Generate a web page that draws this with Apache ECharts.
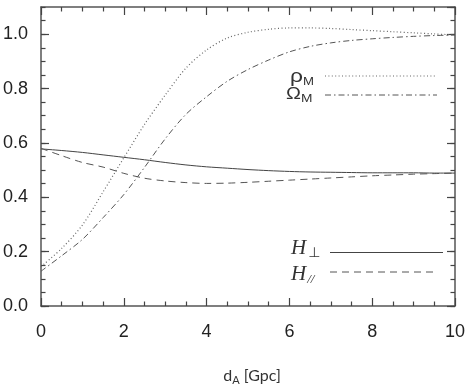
<!DOCTYPE html>
<html>
<head>
<meta charset="utf-8">
<script src="https://cdn.jsdelivr.net/npm/echarts@6/dist/echarts.min.js"></script>
<style>
  html, body { margin: 0; padding: 0; background: #fff; }
  #chart { width: 468px; height: 391px; }
</style>
</head>
<body>
<div id="chart"></div>
<script>
// distance grid, Gpc
var dA = [0, 0.5, 1, 1.5, 2, 2.5, 3, 3.5, 4, 4.5, 5, 5.5, 6, 6.5, 7, 7.5, 8, 8.5, 9, 9.5, 10];

var rhoM = [0.145, 0.212, 0.298, 0.42, 0.545, 0.668, 0.776, 0.875, 0.942, 0.986, 1.007, 1.018, 1.023, 1.023, 1.021, 1.017, 1.013, 1.009, 1.005, 1.001, 0.997];
var omegaM = [0.128, 0.185, 0.245, 0.325, 0.41, 0.51, 0.615, 0.705, 0.77, 0.827, 0.87, 0.905, 0.935, 0.955, 0.968, 0.977, 0.983, 0.988, 0.992, 0.995, 0.997];
var hPerp = [0.578, 0.572, 0.565, 0.556, 0.547, 0.538, 0.528, 0.519, 0.512, 0.507, 0.502, 0.498, 0.495, 0.493, 0.492, 0.491, 0.49, 0.49, 0.49, 0.489, 0.489];
var hPar = [0.58, 0.553, 0.528, 0.511, 0.488, 0.47, 0.46, 0.454, 0.451, 0.452, 0.455, 0.459, 0.463, 0.467, 0.471, 0.475, 0.479, 0.482, 0.485, 0.487, 0.489];

var yTicks = [0, 0.2, 0.4, 0.6, 0.8, 1.0];

function pairs(ys) {
  return dA.map(function (x, i) { return [x, ys[i]]; });
}

var frame = "#555";
var tickCol = "#444";
var axisFont = "Liberation Sans, Arial, sans-serif";

function xAx(pos, labels) {
  return {
    type: "value", position: pos, min: 0, max: 10, interval: 2,
    axisLine: { show: true, onZero: false, lineStyle: { color: frame, width: 1.5 } },
    axisTick: { show: true, inside: true, length: 8, lineStyle: { color: tickCol, width: 1.2 } },
    minorTick: { show: true, splitNumber: 4, length: 4.5, lineStyle: { color: tickCol, width: 1.2 } },
    splitLine: { show: false },
    axisLabel: labels ? {
      show: true, margin: 17, fontSize: 18, color: "#222", fontFamily: axisFont,
      alignMinLabel: "center", alignMaxLabel: "center"
    } : { show: false }
  };
}

function yAx(pos, step, len, line, labels) {
  return {
    type: "value", position: pos, min: 0, max: 1.1, interval: step,
    axisLine: { show: line, onZero: false, lineStyle: { color: frame, width: 1.5 } },
    axisTick: { show: true, inside: true, length: len, lineStyle: { color: tickCol, width: 1.2 } },
    splitLine: { show: false },
    axisLabel: labels ? {
      show: true, margin: 13, fontSize: 18, color: "#222", fontFamily: axisFont,
      showMaxLabel: false,
      formatter: function (v) { return yTicks.indexOf(+v.toFixed(2)) >= 0 ? v.toFixed(1) : ""; }
    } : { show: false }
  };
}

var bottomX = xAx("bottom", true);
bottomX.name = "d{sub|A} [Gpc]";
bottomX.nameLocation = "middle";
bottomX.nameGap = 59;
bottomX.nameTextStyle = {
  fontSize: 16, color: "#333", fontFamily: "Lato, Open Sans, sans-serif", padding: [0, 0, 0, 8],
  rich: { sub: { fontSize: 11, color: "#333", fontFamily: "Lato, Open Sans, sans-serif", padding: [10, 0, 0, 0] } }
};

var chart = echarts.init(document.getElementById("chart"), null, { renderer: "canvas" });

var option = {
  animation: false,
  backgroundColor: "#fff",
  grid: { left: 38, right: 7, top: 7, bottom: 84, containLabel: false },
  xAxis: [bottomX, xAx("top", false)],
  yAxis: [
    yAx("left", 0.2, 8, true, true),
    yAx("left", 0.05, 4.5, false, false),
    yAx("right", 0.2, 8, true, false),
    yAx("right", 0.05, 4.5, false, false)
  ],
  series: [
    { name: "rhoM", type: "line", smooth: 0.3, showSymbol: false, data: pairs(rhoM),
      lineStyle: { color: "#666", width: 1.2, type: [1, 2.4] } },
    { name: "OmegaM", type: "line", smooth: 0.3, showSymbol: false, data: pairs(omegaM),
      lineStyle: { color: "#555", width: 1, type: [6, 3, 1.5, 3] } },
    { name: "Hperp", type: "line", smooth: 0.3, showSymbol: false, data: pairs(hPerp),
      lineStyle: { color: "#444", width: 1 } },
    { name: "Hpar", type: "line", smooth: 0.3, showSymbol: false, data: pairs(hPar),
      lineStyle: { color: "#555", width: 1, type: [7, 5] } }
  ],
  graphic: [
    { type: "text", x: 290, y: 66, scaleX: 1.2, style: {
      text: "ρ{s|M}", fill: "#333", font: "19px Liberation Sans",
      rich: { s: { fontSize: 11, fontFamily: "Liberation Sans", fill: "#333", padding: [10, 0, 0, 0] } } } },
    { type: "text", x: 286, y: 85, scaleX: 1.25, style: {
      text: "Ω{s|M}", fill: "#333", font: "16px Liberation Sans",
      rich: { s: { fontSize: 11, fontFamily: "Liberation Sans", fill: "#333", padding: [8, 0, 0, 0] } } } },
    { type: "line", shape: { x1: 325, y1: 76, x2: 437, y2: 76 },
      style: { stroke: "#666", lineWidth: 1.2, lineDash: [1, 2.4] } },
    { type: "line", shape: { x1: 325, y1: 95, x2: 437, y2: 95 },
      style: { stroke: "#555", lineWidth: 1, lineDash: [6, 3, 1.5, 3] } },
    { type: "text", x: 291, y: 236, style: {
      text: "H{s|⊥}", fill: "#333", font: "italic 21px Liberation Serif",
      rich: { s: { fontSize: 14, fontFamily: "DejaVu Sans", fill: "#333", padding: [10, 0, 0, 2] } } } },
    { type: "text", x: 291, y: 263, style: {
      text: "H{s|//}", fill: "#333", font: "italic 21px Liberation Serif",
      rich: { s: { fontSize: 13, fontStyle: "italic", fontFamily: "Liberation Serif", fill: "#333", padding: [10, 0, 0, 1] } } } },
    { type: "line", shape: { x1: 330, y1: 252.5, x2: 443, y2: 252.5 },
      style: { stroke: "#444", lineWidth: 1 } },
    { type: "line", shape: { x1: 330, y1: 272, x2: 437, y2: 272 },
      style: { stroke: "#555", lineWidth: 1, lineDash: [7, 5] } }
  ]
};

chart.setOption(option);
</script>
</body>
</html>
